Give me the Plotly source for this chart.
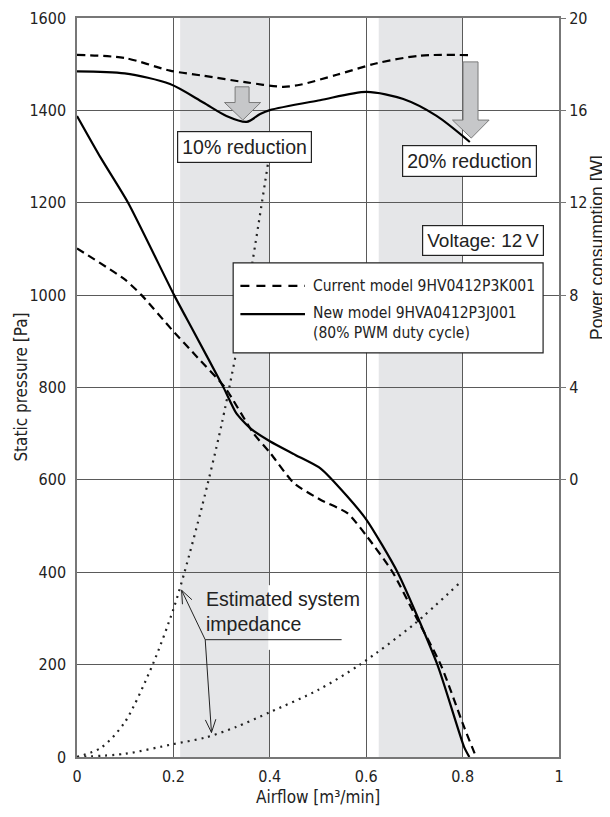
import math
import plotly.graph_objects as go

# ---------------- data ----------------
# P-Q curves (static pressure, Pa)
airflow_cur_pq = [0, 0.099, 0.134, 0.197, 0.25, 0.307, 0.366, 0.401, 0.45, 0.505, 0.561, 0.602, 0.655, 0.70, 0.755, 0.803, 0.828]
pressure_cur = [1101, 1034, 1000, 925, 865, 800, 701, 658, 593, 557, 528, 477, 400, 310, 199, 65, 0]

airflow_new_pq = [0, 0.05, 0.106, 0.2015, 0.24, 0.304, 0.33, 0.359, 0.401, 0.453, 0.505, 0.561, 0.601, 0.665, 0.748, 0.803, 0.814]
pressure_new = [1388, 1296, 1200, 1000, 925, 800, 745, 712, 683, 654, 625, 564, 513, 400, 199, 22, 0]

# Power consumption curves (W)
airflow_cur_pw = [0, 0.099, 0.193, 0.262, 0.352, 0.428, 0.463, 0.539, 0.622, 0.712, 0.815]
power_cur = [18.4, 18.27, 17.72, 17.5, 17.21, 17.02, 17.11, 17.54, 18.04, 18.37, 18.39]

airflow_new_pw = [0, 0.099, 0.193, 0.262, 0.31, 0.352, 0.38, 0.40, 0.504, 0.601, 0.677, 0.746, 0.815]
power_new = [17.69, 17.6, 17.14, 16.34, 15.76, 15.5, 15.84, 16.01, 16.44, 16.8, 16.49, 15.76, 14.63]

# Estimated system impedance curves (Pa)
airflow_imp_hi = [0, 0.05, 0.099, 0.157, 0.2, 0.223, 0.26, 0.3, 0.35, 0.397]
pressure_imp_hi = [0, 20, 75, 200, 320, 400, 545, 720, 985, 1290]
airflow_imp_lo = [0, 0.1, 0.2, 0.266, 0.33, 0.4, 0.5, 0.587, 0.7, 0.793]
pressure_imp_lo = [0, 7, 28, 42, 65, 97, 145, 200, 288, 376]

x_ticks = [0, 0.2, 0.4, 0.6, 0.8, 1]
x_tick_labels = ["0", "0.2", "0.4", "0.6", "0.8", "1"]
y_ticks = [0, 200, 400, 600, 800, 1000, 1200, 1400, 1600]
y2_ticks = [0, 4, 8, 12, 16, 20]

legend_names = ["Current model 9HV0412P3K001", "New model 9HVA0412P3J001<br>(80% PWM duty cycle)"]

# ---------------- styling ----------------
NARROW = "Liberation Sans Narrow, DejaVu Sans Condensed, Arial Narrow, sans-serif"
REG = "Liberation Sans, Arial, sans-serif"
GRID = "#5a5a5a"
BAND = "#e5e6e8"
ARROW_FILL = "#c6c7c9"
ARROW_LINE = "#7a7a7a"
INK = "#222"
DASH = "8px,5px"

fig = go.Figure()

fig.add_trace(go.Scatter(x=airflow_cur_pq, y=pressure_cur, mode="lines", name=legend_names[0],
                         line=dict(color="black", width=2.2, dash=DASH, shape="spline", smoothing=0.6)))
fig.add_trace(go.Scatter(x=airflow_new_pq, y=pressure_new, mode="lines", name=legend_names[1],
                         line=dict(color="black", width=2.2, shape="spline", smoothing=0.6)))
fig.add_trace(go.Scatter(x=airflow_cur_pw, y=power_cur, mode="lines", yaxis="y2",
                         line=dict(color="black", width=2.2, dash=DASH, shape="spline", smoothing=0.8)))
fig.add_trace(go.Scatter(x=airflow_new_pw, y=power_new, mode="lines", yaxis="y2",
                         line=dict(color="black", width=2.2, shape="spline", smoothing=0.8)))
fig.add_trace(go.Scatter(x=airflow_imp_hi, y=pressure_imp_hi, mode="lines",
                         line=dict(color=INK, width=2.2, dash="2px,5px", shape="spline", smoothing=0.8)))
fig.add_trace(go.Scatter(x=airflow_imp_lo, y=pressure_imp_lo, mode="lines",
                         line=dict(color=INK, width=2.2, dash="2px,5px", shape="spline", smoothing=0.8)))

shapes = []
# gray bands
for x0, x1 in [(0.214, 0.4), (0.626, 0.8)]:
    shapes.append(dict(type="rect", xref="x", yref="y", x0=x0, x1=x1, y0=0, y1=1600,
                       fillcolor=BAND, line=dict(width=0), layer="below"))
# gap in 0.4 gridline behind text
shapes.append(dict(type="line", xref="x", yref="y", x0=0.4, x1=0.4, y0=232, y1=372,
                   line=dict(color="white", width=3), layer="above"))


def block_arrow(xl, xr, ytop, yhead, hl, hr, xtip, ytip):
    path = (f"M{xl},{ytop} L{xr},{ytop} L{xr},{yhead} L{hr},{yhead} "
            f"L{xtip},{ytip} L{hl},{yhead} L{xl},{yhead} Z")
    return dict(type="path", xref="x", yref="y", path=path, fillcolor=ARROW_FILL,
                line=dict(color=ARROW_LINE, width=1), layer="above")


shapes.append(block_arrow(0.328, 0.357, 1451, 1417, 0.306, 0.381, 0.344, 1379))
shapes.append(block_arrow(0.801, 0.832, 1505, 1379, 0.779, 0.855, 0.818, 1340))

# leader lines for impedance annotation
PX_X = 482.0          # px per unit airflow
PX_Y = 739.0 / 1600   # px per Pa
junction = (0.266, 254)
tips = [(0.217, 361), (0.279, 53)]
shapes.append(dict(type="line", xref="x", yref="y", x0=junction[0], y0=junction[1], x1=0.549, y1=junction[1],
                   line=dict(color=INK, width=1), layer="above"))
for tx, ty in tips:
    shapes.append(dict(type="line", xref="x", yref="y", x0=junction[0], y0=junction[1], x1=tx, y1=ty,
                       line=dict(color=INK, width=1), layer="above"))
    dxp = (junction[0] - tx) * PX_X
    dyp = (junction[1] - ty) * PX_Y
    ang = math.atan2(dyp, dxp)
    for s in (-1, 1):
        a = ang + s * math.radians(22)
        hx = tx + 14 * math.cos(a) / PX_X
        hy = ty + 14 * math.sin(a) / PX_Y
        shapes.append(dict(type="line", xref="x", yref="y", x0=tx, y0=ty, x1=hx, y1=hy,
                           line=dict(color=INK, width=1), layer="above"))

# custom legend box
shapes.append(dict(type="rect", xref="x", yref="y", x0=0.324, x1=0.967, y0=875, y1=1070,
                   fillcolor="white", line=dict(color=INK, width=1.2), layer="above"))
shapes.append(dict(type="line", xref="x", yref="y", x0=0.339, x1=0.473, y0=1020, y1=1020,
                   line=dict(color="black", width=2.2, dash="9px,7px"), layer="above"))
shapes.append(dict(type="line", xref="x", yref="y", x0=0.339, x1=0.473, y0=959, y1=959,
                   line=dict(color="black", width=2.2), layer="above"))

annotations = [
    dict(x=0.347, y=1320, xref="x", yref="y", text="10% reduction", showarrow=False,
         font=dict(family=REG, size=19.5, color=INK), bgcolor="white", bordercolor=INK,
         borderwidth=1.2, borderpad=4),
    dict(x=0.815, y=1290, xref="x", yref="y", text="20% reduction", showarrow=False,
         font=dict(family=REG, size=19.5, color=INK), bgcolor="white", bordercolor=INK,
         borderwidth=1.2, borderpad=4),
    dict(x=0.843, y=1118, xref="x", yref="y", text="Voltage: 12\u2009V", showarrow=False,
         font=dict(family=REG, size=19, color=INK), bgcolor="white", bordercolor=INK,
         borderwidth=1.2, borderpad=4),
    dict(x=0.264, y=314, xref="x", yref="y", text="Estimated system<br>impedance", showarrow=False,
         xanchor="left", yanchor="middle", align="left",
         font=dict(family=REG, size=19.5, color=INK)),
    dict(x=0.4855, y=1020, xref="x", yref="y", text=legend_names[0], showarrow=False,
         xanchor="left", yanchor="middle", font=dict(family=NARROW, size=15.5, color=INK)),
    dict(x=0.4855, y=940, xref="x", yref="y", text=legend_names[1], showarrow=False,
         xanchor="left", yanchor="middle", align="left", font=dict(family=NARROW, size=15.5, color=INK)),
    dict(x=-0.118, y=0.5, xref="paper", yref="paper", text="Static pressure [Pa]", showarrow=False,
         xanchor="center", yanchor="middle",
         textangle=-90, font=dict(family=NARROW, size=17, color=INK)),
    dict(x=1.079, y=0.689, xref="paper", yref="paper", text="Power consumption [W]", showarrow=False,
         xanchor="center", yanchor="middle",
         textangle=-90, font=dict(family=REG, size=17.5, color=INK)),
    dict(x=0.5, y=-0.054, xref="paper", yref="paper", text="Airflow [m\u00b3/min]", showarrow=False,
         xanchor="center", yanchor="middle", font=dict(family=NARROW, size=17, color=INK)),
]

# page body has an 8px margin: shrink figure/margins so the plot lands where the reference has it
fig.update_layout(
    width=602, height=809,
    margin=dict(l=69, r=51, t=10, b=60),
    paper_bgcolor="white", plot_bgcolor="white",
    shapes=shapes, annotations=annotations,
    showlegend=False,
    xaxis=dict(range=[0, 1], tickvals=x_ticks, ticktext=x_tick_labels, showgrid=True,
               gridcolor=GRID, gridwidth=1, showline=True, linecolor="#777", linewidth=1.5, mirror=True,
               zeroline=False, ticks="", tickfont=dict(family=NARROW, size=16, color=INK),
               ticklabelstandoff=4, automargin=False),
    yaxis=dict(range=[0, 1600], tickvals=y_ticks, showgrid=True, gridcolor=GRID, gridwidth=1,
               showline=True, linecolor="#777", linewidth=1.5, mirror=True, zeroline=False, ticks="",
               tickfont=dict(family=NARROW, size=16, color=INK), ticklabelstandoff=6, automargin=False),
    yaxis2=dict(range=[-12, 20], tickvals=y2_ticks, overlaying="y", side="right", showgrid=False,
                zeroline=False, showline=False, ticks="outside", ticklen=6, tickcolor="#777",
                tickfont=dict(family=NARROW, size=16, color=INK), automargin=False),
)

fig.write_html("out.html")
